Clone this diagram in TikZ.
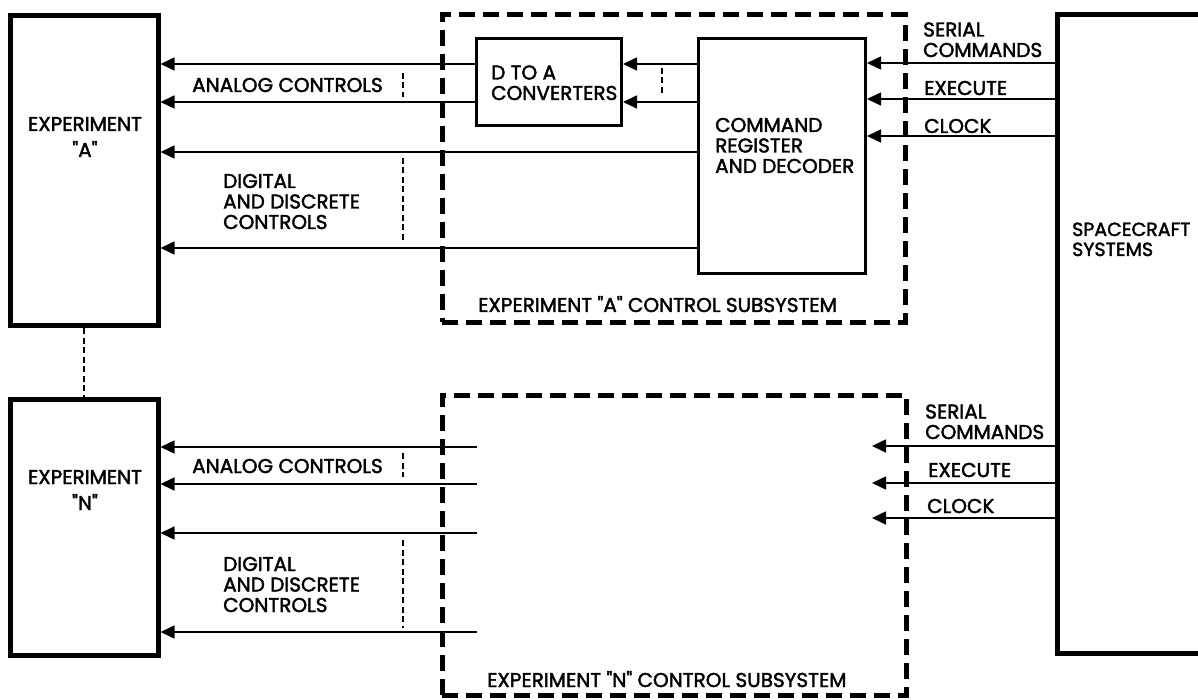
\documentclass[tikz,border=0pt]{standalone}
\usepackage{fontspec}
\setmainfont{Poppins}[Ligatures=TeXOff, FakeBold=2]
\usetikzlibrary{arrows.meta}
\newcommand{\dq}{\char34 }
\begin{document}
\begin{tikzpicture}[x=1pt,y=-1pt,
  thickbox/.style={draw, line width=5pt, inner sep=0pt},
  medbox/.style={draw, line width=3pt, inner sep=0pt},
  container/.style={draw, line width=5pt, dash pattern=on 16pt off 8pt, inner sep=0pt},
  sig/.style={line width=1.6pt, -{Triangle[length=14pt,width=13pt]}},
  bus/.style={line width=1.4pt, dash pattern=on 6pt off 3.5pt},
  lbl/.style={font=\fontsize{20}{20.5}\selectfont, anchor=base west, inner sep=0pt, align=left},
  explbl/.style={font=\fontsize{20}{26}\selectfont, anchor=base, inner sep=0pt, align=center},
]
\useasboundingbox (0,0) rectangle (1198,700);

% boxes
\node[thickbox, minimum width=148pt, minimum height=310pt] (expA) at (84,170.5) {};
\node[thickbox, minimum width=148pt, minimum height=256pt] (expN) at (84,527.5) {};
\node[medbox, minimum width=145pt, minimum height=87pt] (dta) at (549,82.5) {};
\node[medbox, minimum width=167pt, minimum height=235pt] (cmd) at (782,156) {};
\node[thickbox, minimum width=200pt, minimum height=638pt] (sc) at (1157,334) {};
\node[container, minimum width=463pt, minimum height=307pt] (subA) at (673.5,168.5) {};
\node[container, minimum width=464pt, minimum height=300pt] (subN) at (674,545) {};

% texts (base = baseline of last line)
\node[explbl] (tA) at (85,157) {EXPERIMENT\\\dq A\dq};
\node[explbl] (tN) at (85,510) {EXPERIMENT\\\dq N\dq};
\node[lbl] (anA) at (192,92) {ANALOG CONTROLS};
\node[lbl] (diA) at (223,229) {DIGITAL\\AND DISCRETE\\CONTROLS};
\node[lbl] (anN) at (192,473) {ANALOG CONTROLS};
\node[lbl] (diN) at (223,612) {DIGITAL\\AND DISCRETE\\CONTROLS};
\node[lbl] (tdta) at (491,100) {D TO A\\CONVERTERS};
\node[lbl] (tcmd) at (715,173) {COMMAND\\REGISTER\\AND DECODER};
\node[lbl] (tsubA) at (478,312) {EXPERIMENT \dq A\dq{} CONTROL SUBSYSTEM};
\node[lbl] (tsubN) at (487,687) {EXPERIMENT \dq N\dq{} CONTROL SUBSYSTEM};
\node[lbl] (serA) at (923,57) {SERIAL\\COMMANDS};
\node[lbl] (exeA) at (924,95) {EXECUTE};
\node[lbl] (clkA) at (924,133) {CLOCK};
\node[lbl] (serN) at (925,439) {SERIAL\\COMMANDS};
\node[lbl] (exeN) at (928,477) {EXECUTE};
\node[lbl] (clkN) at (927,513) {CLOCK};
\node[lbl, font=\fontsize{19}{20}\selectfont] (tsc) at (1072,256) {SPACECRAFT\\SYSTEMS};

% row coordinates
\coordinate (ya1) at (0,64);
\coordinate (ya2) at (0,102);
\coordinate (ya3) at (0,152);
\coordinate (ya4) at (0,248);
\coordinate (yi1) at (0,63);
\coordinate (yi2) at (0,99);
\coordinate (yi3) at (0,136);

% top connectors
\draw[sig] (dta.west |- ya1) -- (expA.east |- ya1);
\draw[sig] (dta.west |- ya2) -- (expA.east |- ya2);
\draw[sig] (cmd.west |- ya3) -- (expA.east |- ya3);
\draw[sig] (cmd.west |- ya4) -- (expA.east |- ya4);
\draw[sig] (cmd.west |- ya1) -- (dta.east |- ya1);
\draw[sig] (cmd.west |- ya2) -- (dta.east |- ya2);
\draw[sig] (sc.west |- yi1) -- (cmd.east |- yi1);
\draw[sig] (sc.west |- yi2) -- (cmd.east |- yi2);
\draw[sig] (sc.west |- yi3) -- (cmd.east |- yi3);

% bottom connectors
\coordinate (nb1) at (477,447);
\coordinate (nb2) at (477,484);
\coordinate (nb3) at (477,533);
\coordinate (nb4) at (477,632);
\draw[sig] (nb1) -- (expN.east |- nb1);
\draw[sig] (nb2) -- (expN.east |- nb2);
\draw[sig] (nb3) -- (expN.east |- nb3);
\draw[sig] (nb4) -- (expN.east |- nb4);
\coordinate (ni1) at (872,446);
\coordinate (ni2) at (872,483);
\coordinate (ni3) at (872,518);
\draw[sig] (sc.west |- ni1) -- (ni1);
\draw[sig] (sc.west |- ni2) -- (ni2);
\draw[sig] (sc.west |- ni3) -- (ni3);

% link between experiments
\draw[bus] (expA.south) -- (expN.north);

% bus markers
\draw[bus] (403,73) -- (403,97);
\draw[bus] (403,158) -- (403,242);
\draw[bus] (662,68) -- (662,95);
\draw[bus] (403,453) -- (403,477);
\draw[bus] (403,540) -- (403,628);
\end{tikzpicture}
\end{document}
